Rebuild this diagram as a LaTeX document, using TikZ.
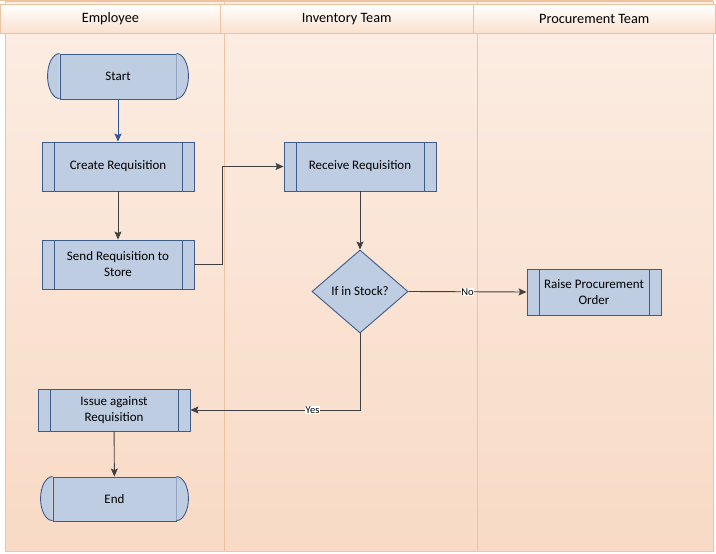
\documentclass[tikz,border=0pt]{standalone}
\usepackage{fontspec}
\setmainfont{Carlito}
\usetikzlibrary{shapes.geometric,arrows.meta,calc}
\definecolor{nodefill}{RGB}{191,205,226}
\definecolor{nodeline}{RGB}{62,92,138}
\definecolor{lanetop}{RGB}{252,237,227}
\definecolor{lanebot}{RGB}{248,218,197}
\definecolor{laneline}{RGB}{238,196,160}
\definecolor{headbot}{RGB}{250,224,205}
\definecolor{conn}{RGB}{64,64,64}
\definecolor{bluearrow}{RGB}{47,84,150}
\begin{document}
\begin{tikzpicture}[x=1pt,y=-1pt,
  boxbase/.style={draw=nodeline, fill=nodefill, line width=0.9pt, inner sep=1pt,
    align=center, font=\fontsize{13}{16}\selectfont},
  procbox/.style={boxbase, rectangle, minimum width=#1, minimum height=49pt,
    path picture={\draw[nodeline, line width=0.9pt]
      ([xshift=12pt]path picture bounding box.north west) -- ([xshift=12pt]path picture bounding box.south west)
      ([xshift=-12pt]path picture bounding box.north east) -- ([xshift=-12pt]path picture bounding box.south east);}},
  termbox/.style={boxbase, rectangle, minimum width=116pt, minimum height=45pt},
  termcap/.style={draw=nodeline, fill=nodefill, line width=0.9pt},
  decision/.style={boxbase, diamond, inner sep=0pt, minimum width=96pt, minimum height=83pt},
  headbox/.style={draw=laneline, line width=0.8pt, top color=white, bottom color=headbot,
    rectangle, anchor=north west, minimum height=29pt, inner sep=0pt,
    font=\fontsize{14.3}{16}\selectfont},
  conn/.style={draw=conn, line width=0.9pt, -{Stealth[length=8pt,width=7pt,inset=1.5pt]}},
  lbl/.style={fill=white, inner sep=0.6pt, font=\fontsize{10.5}{12}\selectfont, text=black}
]
\useasboundingbox (0,0) rectangle (716,554);
% pool and lanes
\shade[top color=lanetop, bottom color=lanebot] (5,1) rectangle (713,551);
\draw[laneline, line width=0.8pt] (0,0.6) -- (713,0.6);
\draw[laneline, line width=0.8pt] (5,1) rectangle (713,551);
\draw[laneline, line width=1pt] (224,1) -- (224,551);
\draw[laneline, line width=1pt] (477,1) -- (477,551);
% headers
\node[headbox, minimum width=220pt] (h1) at (0,4) {Employee};
\node[headbox, minimum width=252.7pt] (h2) at (220,4) {Inventory Team};
\node[headbox, minimum width=242.3pt] (h3) at (472.7,4) {Procurement Team};
% nodes
\node[termbox] (start) at (118,76.5) {Start};
\draw[termcap] (start.north west) arc[start angle=90,end angle=270,x radius=12pt,y radius=22.5pt];
\draw[termcap] (start.north east) arc[start angle=90,end angle=-90,x radius=12pt,y radius=22.5pt];
\node[procbox=152pt] (create) at (118,166.5) {Create Requisition};
\node[procbox=152pt] (send) at (118,264.5) {Send Requisition to\\Store};
\node[procbox=152pt] (recv) at (360,166.5) {Receive Requisition};
\node[decision] (dec) at (360,291.5) {\makebox[0pt]{If in Stock?}};
\node[procbox=134pt, minimum height=46pt] (raise) at (594,292) {Raise Procurement\\Order};
\node[procbox=152pt, minimum height=42pt] (issue) at (114,410) {Issue against\\Requisition};
\node[termbox, minimum width=123pt, minimum height=44pt] (end) at (114.5,499) {End};
\draw[termcap] (end.north west) arc[start angle=90,end angle=270,x radius=12pt,y radius=22pt];
\draw[termcap] (end.north east) arc[start angle=90,end angle=-90,x radius=12pt,y radius=22pt];
% connectors
\draw[conn, draw=bluearrow] (start) -- (create);
\draw[conn] (create) -- (send);
\coordinate (bend1) at (222,264.5);
\coordinate (bend2) at (222,166.5);
\draw[conn] (send.east) -- (bend1) -- (bend2) -- (recv.west);
\draw[conn] (recv) -- (dec);
\draw[conn] (dec.east) -- node[lbl, pos=0.5] {No} (raise.west);
\draw[conn] (dec.south) |- node[lbl, pos=0.64] {Yes} (issue.east);
\draw[conn] (issue) -- (end);
\end{tikzpicture}
\end{document}
